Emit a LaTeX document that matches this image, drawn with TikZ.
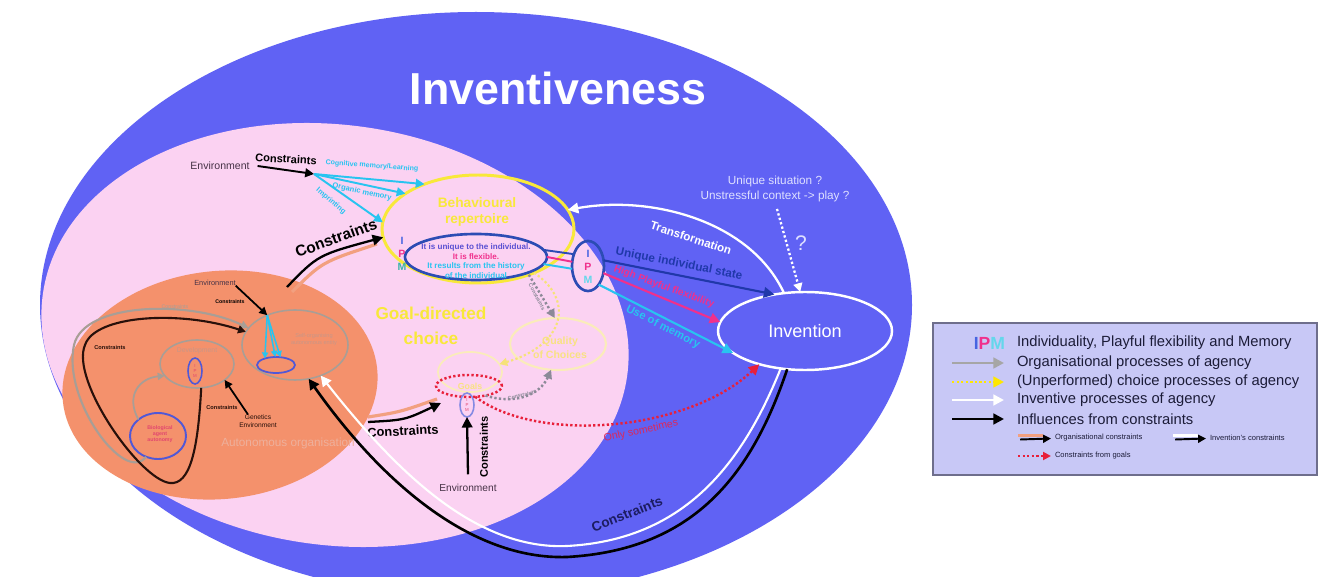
\documentclass[tikz,border=0pt]{standalone}
\usepackage{fontspec}
\setmainfont{Liberation Sans}
\usetikzlibrary{arrows.meta,shapes.geometric}

\definecolor{bgblue}{RGB}{96,98,244}
\definecolor{pinkbg}{RGB}{251,210,242}
\definecolor{orangebg}{RGB}{244,145,108}
\definecolor{ybright}{RGB}{248,232,58}
\definecolor{yfaint}{RGB}{250,236,186}
\definecolor{yfainttxt}{RGB}{248,226,130}
\definecolor{ydot}{RGB}{246,226,120}
\definecolor{ipmblue}{RGB}{44,76,180}
\definecolor{smallblue}{RGB}{80,88,215}
\definecolor{cyanl}{RGB}{40,196,240}
\definecolor{pinkl}{RGB}{240,48,140}
\definecolor{greyl}{RGB}{168,158,150}
\definecolor{greyd}{RGB}{140,138,152}
\definecolor{redd}{RGB}{232,32,58}
\definecolor{onlyred}{RGB}{220,40,90}
\definecolor{navy}{RGB}{28,28,96}
\definecolor{usblue}{RGB}{32,56,170}
\definecolor{legfill}{RGB}{200,200,246}
\definecolor{legdraw}{RGB}{110,110,140}
\definecolor{legtxt}{RGB}{28,28,56}
\definecolor{itxt}{RGB}{90,80,210}
\definecolor{mteal}{RGB}{60,180,170}
\definecolor{mcyan}{RGB}{100,215,235}
\definecolor{ipmI}{RGB}{70,100,225}
\definecolor{lav}{RGB}{222,224,255}
\definecolor{salmon}{RGB}{242,160,128}
\definecolor{envtxt}{RGB}{70,50,70}
\definecolor{loopblk}{RGB}{40,16,10}
\definecolor{autotxt}{RGB}{238,176,156}
\definecolor{devtxt}{RGB}{200,150,135}
\definecolor{biotxt}{RGB}{225,70,110}

\newcommand\U{0.02cm}

\begin{document}
\begin{tikzpicture}[x=0.02cm,y=-0.02cm,
  every node/.style={inner sep=0pt,outer sep=0pt},
  fs/.style={font=\fontsize{#1pt}{#1pt}\selectfont},
  fb/.style={font=\fontsize{#1pt}{#1pt}\selectfont\bfseries},
  wh/.style 2 args={minimum width=#1*\U,minimum height=#2*\U},
  tipsz/.style={-{Triangle[length=#1,width=#1]}},
  conarrow/.style={draw=black,line width=1.3pt,tipsz=6pt},
  cyanarrow/.style={draw=cyanl,line width=1.1pt,tipsz=5pt},
  orgline/.style={draw=salmon,line width=1.8pt},
  dots/.style={dash pattern=on 1.3pt off 1.3pt}]

\useasboundingbox (0,0) rectangle (1318,577);
\fill[white] (0,0) rectangle (1318,577);

% nested regions
\begin{scope}
\clip (0,0) rectangle (1318,577);
\node[ellipse,fill=bgblue,wh={872}{586}] (world) at (476,305) {};
\node[ellipse,fill=pinkbg,wh={590}{420},rotate=-8] (agency) at (335,335) {};
\node[ellipse,fill=orangebg,wh={316}{228},rotate=6] (auto) at (220,385) {};
\end{scope}

\node[fb=25.5,text=white] (title) at (558,88) {Inventiveness};

% ---------- autonomous organisation ----------
\node[ellipse,draw=greyl,line width=0.9pt,wh={74}{48}] (dev) at (197,364) {};
\node[ellipse,draw=smallblue,line width=0.9pt,wh={14}{26}] (devi) at (195,371) {};
\node[ellipse,draw=smallblue,line width=1.1pt,wh={56}{46}] (bio) at (158,436) {};
\node[ellipse,draw=greyl,line width=0.9pt,wh={106}{70}] (self) at (295,345) {};
\node[ellipse,draw=smallblue,line width=1pt,wh={38}{16}] (selfi) at (276,365) {};

\node[fs=3.9,text=devtxt] (devl) at (197,351) {Development};
\node[font=\fontsize{2.5pt}{3pt}\selectfont,text=biotxt,align=center] (devipm) at (195,371) {I\\P\\M};
\node[font=\fontsize{3pt}{3.6pt}\selectfont\bfseries,text=biotxt,align=center] (biol) at (160,434) {Biological\\agent\\autonomy};
\node[font=\fontsize{3.2pt}{4pt}\selectfont,text=devtxt,align=center] (selfl) at (314,340) {Self-organising\\autonomous entity};

\draw[greyl,line width=1pt,tipsz=4pt] (bio.140) .. controls (125,395) and (140,378) .. (dev.200);
\draw[greyl,line width=1.2pt,tipsz=4.5pt] (bio.240) .. controls (125,485) and (62,400) .. (74,345) .. controls (84,302) and (190,300) .. (self.160);
\draw[loopblk,line width=1.2pt,tipsz=4.5pt] (dev.280) .. controls (198,450) and (190,485) .. (170,483) .. controls (140,480) and (70,380) .. (85,345) .. controls (95,315) and (180,310) .. (self.165);
\node[fs=3,text=greyl] (cons0) at (175,307) {Constraints};
\node[fb=3.2,text=loopblk] (cons4) at (110,347) {Constraints};

\node[fs=4.2,text=envtxt] (env2) at (215,283) {Environment};
\node[fb=3,text=black] (cons2) at (230,302) {Constraints};
\draw[black,line width=1pt,tipsz=4.5pt] (env2.south east) -- (self.133);
\foreach \a in {150,95,60}
  \draw[cyanl,line width=0.9pt,tipsz=3.5pt] (self.133) -- (selfi.\a);

\node[font=\fontsize{3.8pt}{4.6pt}\selectfont,text=loopblk,align=center] (gen) at (258,421) {Genetics\\Environment};
\node[fb=3.2,text=loopblk] (cons3) at (222,407) {Constraints};
\draw[black,line width=1pt,tipsz=4.5pt] ([xshift=-0.2cm]gen.north) -- (dev.330);
\node[fs=6.7,text=autotxt] (autol) at (288,443) {Autonomous organisation};

% ---------- behavioural repertoire ----------
\node[ellipse,draw=ybright,line width=1.7pt,wh={192}{108}] (beh) at (478,229) {};
\node[font=\fontsize{7.8pt}{9.6pt}\selectfont\bfseries,text=ybright,align=center] (behl) at (477,212) {Behavioural\\repertoire};
\node[ellipse,draw=ipmblue,line width=1.5pt,wh={142}{46}] (inner) at (476,257) {};
\node[font=\fontsize{4.6pt}{5.4pt}\selectfont\bfseries,align=center] (innerl) at (476,261)
  {\textcolor{itxt}{It is unique to the individual.}\\\textcolor{pinkl}{It is flexible.}\\
   \textcolor{cyanl}{It results from the history}\\\textcolor{cyanl}{of the individual}};
\node[font=\fontsize{6pt}{7.6pt}\selectfont\bfseries,align=center] (ipmA) at (402,254)
  {\textcolor{ipmI}{I}\\\textcolor{pinkl}{P}\\\textcolor{mteal}{M}};

\node[ellipse,draw=ipmblue,line width=1.5pt,wh={32}{50}] (ipm) at (588,266) {};
\node[font=\fontsize{6pt}{7.6pt}\selectfont\bfseries,align=center] (ipmB) at (588,267)
  {\textcolor{ipmI}{I}\\\textcolor{pinkl}{P}\\\textcolor{mcyan}{M}};

% environment input to the repertoire
\node[fs=6,text=envtxt] (env1) at (220,166) {Environment};
\node[fb=6.3,rotate=-3] (cons1) at (286,159) {Constraints};
\coordinate (j1) at (314,174);
\draw[conarrow,line width=1.1pt,tipsz=5pt] ([xshift=0.16cm]env1.east) -- (j1);
\draw[cyanarrow] (j1) -- (beh.140);
\draw[cyanarrow] (j1) -- (beh.154);
\draw[cyanarrow] (j1) -- (beh.176);
\node[fb=4,text=cyanl,rotate=-4] (cogl) at (372,166) {Cognitive memory/Learning};
\node[fb=4.3,text=cyanl,rotate=-12] (orgl) at (362,192) {Organic memory};
\node[fb=4.2,text=cyanl,rotate=-40] (impl) at (331,201) {Imprinting};

% organisational constraints
\coordinate (o1) at (287,287);
\draw[orgline] (292,292) .. controls (322,262) .. (377,244);
\draw[conarrow] (o1) .. controls (318,255) .. (beh.185);
\node[fb=8.8,rotate=20] (cons5) at (336,238) {Constraints};

% ---------- goal-directed choice ----------
\node[font=\fontsize{9.8pt}{14pt}\selectfont\bfseries,text=ybright,align=center] (gdc) at (431,326) {Goal-directed\\choice};
\node[ellipse,draw=yfaint,line width=1.2pt,wh={96}{52}] (qual) at (558,344) {};
\node[font=\fontsize{6pt}{8pt}\selectfont\bfseries,text=yfainttxt,align=center] (quall) at (560,348) {Quality\\of Choices};
\node[ellipse,draw=yfaint,line width=1pt,wh={64}{40}] (goalY) at (470,372) {};
\node[ellipse,draw=redd,line width=1.4pt,dots,wh={66}{22}] (goals) at (469,386) {};
\node[fb=5,text=yfainttxt] (goalsl) at (470,386) {Goals};
\node[ellipse,draw=smallblue!70!white,line width=0.9pt,wh={14}{24}] (goali) at (467,405) {};
\node[font=\fontsize{2.5pt}{3pt}\selectfont,text=biotxt,align=center] (goalil) at (467,405) {I\\P\\M};

\draw[ydot,line width=1.2pt,dots,tipsz=4.5pt] (beh.322) .. controls (575,300) and (565,345) .. (goalY.15);
\draw[greyd,line width=1.4pt,dots,tipsz=5pt] (beh.318) -- (qual.97);
\node[fb=3,text=greyd,rotate=-62] (consg1) at (537,297) {Constraints};
\draw[greyd,line width=1.4pt,dots,tipsz=5pt] (goals.330) .. controls (515,405) and (540,395) .. (qual.255);
\node[fb=3,text=greyd,rotate=15] (consg2) at (522,395) {Constraints};

\coordinate (o2) at (368,422);
\coordinate (g1) at (441,403);
\draw[orgline] (368,417) .. controls (400,412) .. (437,399);
\draw[conarrow] (o2) .. controls (405,420) .. (g1);
\node[fb=7.3,rotate=3] (cons6) at (403,431) {Constraints};

\node[fs=5.8,text=envtxt] (env3) at (468,488) {Environment};
\draw[conarrow] ([yshift=0.2cm]env3.north) -- (goali.south);
\node[fb=6.3,rotate=90] (cons7) at (484,447) {Constraints};

% ---------- invention ----------
\node[ellipse,draw=white,line width=1.4pt,wh={174}{78},fs=10.3,text=white] (inv) at (805,331) {Invention};

\draw[ipmblue,line width=1.1pt] (inner.6) -- (ipm.140);
\draw[pinkl,line width=1.1pt] (inner.0) -- (ipm.165);
\draw[cyanl,line width=1.1pt] (inner.354) -- (ipm.190);
\draw[usblue,line width=1.2pt,tipsz=6pt] (ipm.20) -- (inv.130);
\draw[pinkl,line width=1.2pt,tipsz=6pt] (ipm.335) -- (inv.174);
\draw[cyanl,line width=1.2pt,tipsz=6pt] (ipm.300) -- (inv.197);
\node[fb=6.7,text=usblue,rotate=-11] (lab1) at (679,264) {Unique individual state};
\node[fb=5.8,text=pinkl,rotate=-20] (lab2) at (664,287) {High Playful flexibility};
\node[fb=6.4,text=cyanl,rotate=-27] (lab3) at (663,327) {Use of memory};

\draw[white,line width=1.3pt,tipsz=6pt] (inv.119) .. controls (750,220) and (650,195) .. (beh.12);
\node[fb=6.6,text=white,rotate=-18] (transl) at (691,238) {Transformation};

\node[font=\fontsize{6.7pt}{8.5pt}\selectfont,text=lav,align=center] (sit) at (775,189) {Unique situation ?\\Unstressful context -> play ?};
\draw[white,line width=1.3pt,dots,tipsz=5pt] ([yshift=-0.14cm,xshift=0.04cm]sit.south) -- (inv.97);
\node[fs=12,text=lav] (qm) at (801,243) {?};

\draw[redd,line width=1.4pt,dots,tipsz=6pt] (goals.300) .. controls (540,445) and (690,430) .. (inv.216);
\node[fs=6,text=onlyred,rotate=12] (onlyl) at (641,431) {Only sometimes};

% invention's constraints
\draw[white,line width=1.2pt,tipsz=6pt] (inv.237) .. controls (740,470) and (680,540) .. (567,546) .. controls (475,550) and (395,470) .. (self.310);
\draw[black,line width=1.5pt,tipsz=6pt] (inv.245) .. controls (750,480) and (690,550) .. (567,557) .. controls (470,560) and (380,480) .. (self.292);
\node[fb=7.7,text=navy,rotate=22] (cons8) at (627,514) {Constraints};

% ---------- legend ----------
\node[draw=legdraw,fill=legfill,line width=0.6pt,anchor=north west,wh={384}{152}] (leg) at (933,323) {};
\node[font=\fontsize{10pt}{10pt}\selectfont\bfseries,anchor=east] (lipm) at (1005,343)
  {\textcolor{ipmI}{I}\textcolor{pinkl}{P}\textcolor{mcyan}{M}};
\node[fs=8.4,text=legtxt,anchor=west] (l1) at (1017,343) {Individuality, Playful flexibility and Memory};
\node[fs=8.4,text=legtxt,anchor=west] (l2) at (1017,363) {Organisational processes of agency};
\node[fs=8.4,text=legtxt,anchor=west] (l3) at (1017,382) {(Unperformed) choice processes of agency};
\node[fs=8.4,text=legtxt,anchor=west] (l4) at (1017,400) {Inventive processes of agency};
\node[fs=8.4,text=legtxt,anchor=west] (l5) at (1017,419) {Influences from constraints};
\draw[gray!70,line width=1.6pt,tipsz=6pt] ([xshift=-1.3cm]l2.west) -- ([xshift=-0.26cm]l2.west);
\draw[yellow!90!orange,line width=1.4pt,dots,tipsz=6pt] ([xshift=-1.3cm]l3.west) -- ([xshift=-0.26cm]l3.west);
\draw[white,line width=1.6pt,tipsz=6pt] ([xshift=-1.3cm]l4.west) -- ([xshift=-0.26cm]l4.west);
\draw[black,line width=1.6pt,tipsz=6pt] ([xshift=-1.3cm]l5.west) -- ([xshift=-0.26cm]l5.west);

\node[fs=4.3,text=legtxt,anchor=west] (l6) at (1055,438) {Organisational constraints};
\node[fs=4.3,text=legtxt,anchor=west] (l7) at (1210,438) {Invention's constraints};
\node[fs=4.3,text=legtxt,anchor=west] (l8) at (1055,456) {Constraints from goals};
\draw[salmon,line width=1.8pt] ([xshift=-0.74cm,yshift=0.05cm]l6.west) -- ([xshift=-0.24cm,yshift=0.05cm]l6.west);
\draw[black,line width=1.1pt,tipsz=4.5pt] ([xshift=-0.7cm,yshift=-0.03cm]l6.west) -- ([xshift=-0.08cm,yshift=-0.01cm]l6.west);
\draw[white,line width=1.8pt] ([xshift=-0.74cm,yshift=0.05cm]l7.west) -- ([xshift=-0.24cm,yshift=0.05cm]l7.west);
\draw[black,line width=1.1pt,tipsz=4.5pt] ([xshift=-0.7cm,yshift=-0.03cm]l7.west) -- ([xshift=-0.08cm,yshift=-0.01cm]l7.west);
\draw[redd,line width=1.1pt,dots,tipsz=4.5pt] ([xshift=-0.74cm]l8.west) -- ([xshift=-0.08cm]l8.west);
\end{tikzpicture}
\end{document}
